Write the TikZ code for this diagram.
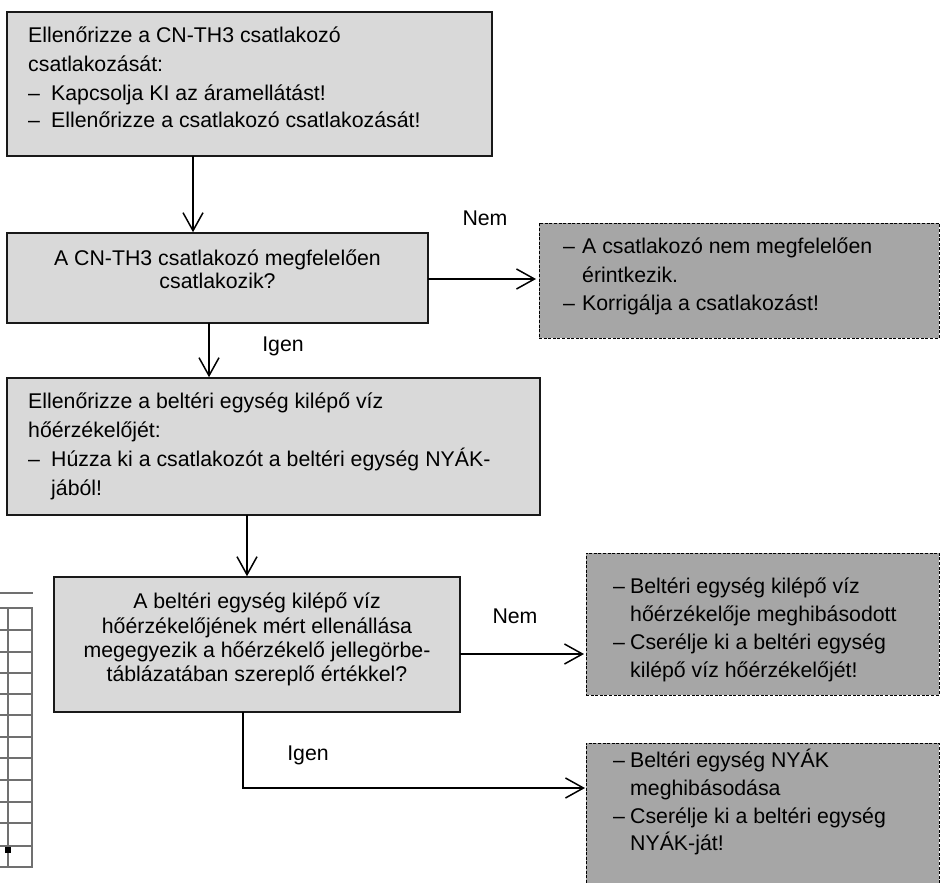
\documentclass[tikz,border=0pt]{standalone}
\usepackage{fontspec}
\setmainfont{Liberation Sans}
\usetikzlibrary{arrows.meta}
\definecolor{boxlight}{HTML}{D9D9D9}
\definecolor{boxdark}{HTML}{A6A6A6}
\definecolor{gridgray}{HTML}{707070}
\begin{document}
\begin{tikzpicture}[x=1pt,y=-1pt,
  lbox/.style={draw=black!90, fill=boxlight, line width=1.5pt, inner sep=0pt, outer sep=0pt, anchor=north west},
  dbox/.style={draw=black, fill=boxdark, line width=0.9pt, dash pattern=on 3pt off 1.6pt, inner sep=0pt, outer sep=0pt, anchor=north west},
  txt/.style={inner sep=0pt, font=\fontsize{21.3}{26}\selectfont, anchor=base west},
  ctxt/.style={inner sep=0pt, font=\fontsize{21.3}{26}\selectfont, anchor=base},
  arr/.style={line width=1.6pt, -{Straight Barb[length=18pt,width=20pt,line width=1.5pt]}},
  conn/.style={line width=1.6pt},
  gridline/.style={draw=gridgray, line width=1.2pt}
]
\clip (0,0) rectangle (940,883);
\fill[white] (0,0) rectangle (940,883);

% grid fragment at left edge
\draw[gridline] (0,593) -- (33,593);
\foreach \yy in {608,630,652,673,694,715,737,758,780,802,823,846,867}
  \draw[gridline] (0,\yy) -- (33,\yy);
\draw[gridline] (8,608) -- (8,867);
\draw[gridline] (32,608) -- (32,867);
\fill[black] (5,847) rectangle (11,853);

% boxes
\node[lbox, minimum width=485pt, minimum height=144pt] (b1) at (7,12) {};
\node[lbox, minimum width=421pt, minimum height=90pt] (b2) at (7,233) {};
\node[lbox, minimum width=533pt, minimum height=137pt] (b3) at (7,378) {};
\node[lbox, minimum width=406pt, minimum height=135pt] (b4) at (54,577) {};
\node[dbox, minimum width=400pt, minimum height=115pt] (d1) at (539,223) {};
\node[dbox, minimum width=353pt, minimum height=142pt] (d2) at (586,553) {};
\node[dbox, minimum width=353pt, minimum height=160pt] (d3) at (586,743) {};

% box 1 text
\node[txt] (t1a) at (28,43) {Ellenőrizze a CN-TH3 csatlakozó};
\node[txt] (t1b) at (28,71) {csatlakozását:};
\node[txt] (t1c) at (28,100) {\makebox[23pt][l]{–}Kapcsolja KI az áramellátást!};
\node[txt] (t1d) at (28,128) {\makebox[23pt][l]{–}Ellenőrizze a csatlakozó csatlakozását!};

% box 2 text
\node[ctxt] (t2a) at (217.5,265) {A CN-TH3 csatlakozó megfelelően};
\node[ctxt] (t2b) at (217.5,288) {csatlakozik?};

% box 3 text
\node[txt] (t3a) at (28,408) {Ellenőrizze a beltéri egység kilépő víz};
\node[txt] (t3b) at (28,437) {hőérzékelőjét:};
\node[txt] (t3c) at (28,466) {\makebox[23pt][l]{–}Húzza ki a csatlakozót a beltéri egység NYÁK-};
\node[txt] (t3d) at (51,495) {jából!};

% box 4 text
\node[ctxt] (t4a) at (257,608) {A beltéri egység kilépő víz};
\node[ctxt] (t4b) at (257,633) {hőérzékelőjének mért ellenállása};
\node[ctxt] (t4c) at (257,657) {megegyezik a hőérzékelő jellegörbe-};
\node[ctxt] (t4d) at (257,681) {táblázatában szereplő értékkel?};

% dashed box 1 text
\node[txt] (u1a) at (563,253) {\makebox[19pt][l]{–}A csatlakozó nem megfelelően};
\node[txt] (u1b) at (582,282) {érintkezik.};
\node[txt] (u1c) at (563,310) {\makebox[19pt][l]{–}Korrigálja a csatlakozást!};

% dashed box 2 text
\node[txt] (u2a) at (613,593) {\makebox[17pt][l]{–}Beltéri egység kilépő víz};
\node[txt] (u2b) at (630,621) {hőérzékelője meghibásodott};
\node[txt] (u2c) at (613,649) {\makebox[17pt][l]{–}Cserélje ki a beltéri egység};
\node[txt] (u2d) at (630,677) {kilépő víz hőérzékelőjét!};

% dashed box 3 text
\node[txt] (u3a) at (613,767) {\makebox[17pt][l]{–}Beltéri egység NYÁK};
\node[txt] (u3b) at (630,795) {meghibásodása};
\node[txt] (u3c) at (613,823) {\makebox[17pt][l]{–}Cserélje ki a beltéri egység};
\node[txt] (u3d) at (630,850) {NYÁK-ját!};

% connector helper coordinates
\coordinate (x1) at (193,0);
\coordinate (x2) at (209,0);
\coordinate (x3) at (247,0);
\coordinate (x4) at (243,0);
\coordinate (y1) at (0,279);
\coordinate (y2) at (0,654);
\coordinate (y3) at (0,788);

% connectors
\draw[arr] (b1.south -| x1) -- ([yshift=0.8pt]b2.north -| x1);
\draw[arr] (b2.south -| x2) -- ([yshift=0.8pt]b3.north -| x2);
\draw[arr] (b3.south -| x3) -- ([yshift=0.8pt]b4.north -| x3);
\draw[arr] (b2.east |- y1) -- ([xshift=-3pt]d1.west |- y1);
\draw[arr] (b4.east |- y2) -- ([xshift=-2pt]d2.west |- y2);
\draw[arr] (b4.south -| x4) |- ([xshift=-1pt]d3.west |- y3);

% labels
\node[ctxt] (nem1) at (485,225) {Nem};
\node[ctxt] (nem2) at (515,623) {Nem};
\node[ctxt] (igen1) at (283,351) {Igen};
\node[ctxt] (igen2) at (308,760) {Igen};
\end{tikzpicture}
\end{document}
